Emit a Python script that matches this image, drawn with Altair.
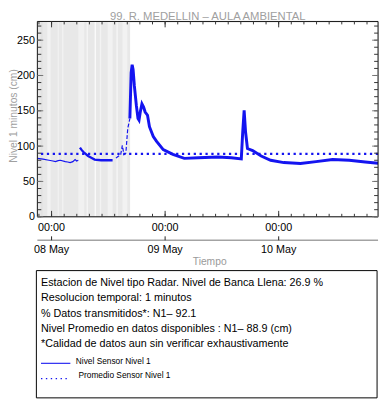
import altair as alt
import pandas as pd

BASE = pd.Timestamp("2024-05-08 00:00")
FONT = "Liberation Sans"
BLUE = "#1414f0"

# ---- series: hours after 08 May 00:00 and level (cm) ----
seg_a_h = [-3.0, -1.8, -0.56, 0.3, 0.83, 1.4, 1.86, 2.9, 3.4, 3.93, 4.5, 4.97, 5.3, 5.65]
seg_a_v = [82.7, 81.5, 80.0, 79.0, 78.0, 79.5, 80.0, 78.0, 77.5, 76.7, 78.0, 81.0, 79.0, 80.0]
seg_b_h = [6.0, 6.3, 6.68, 7.2, 7.72, 8.4, 9.1, 10.47, 11.5, 12.9]
seg_b_v = [98.0, 95.0, 92.0, 89.0, 86.0, 83.5, 81.0, 80.0, 80.0, 80.0]
seg_c_h = [13.6, 13.9, 14.6, 14.96, 15.3, 15.7, 16.1, 16.55]
seg_c_v = [83.0, 84.5, 88.0, 101.0, 88.0, 90.0, 125.0, 139.0]
main_h = [16.55, 16.82, 17.03, 17.23, 17.5, 17.92, 18.27, 18.48, 18.75, 19.1, 19.45,
          19.78, 20.28, 20.69, 21.5, 22.2, 23.6, 25.65, 28.05, 31.0, 35.2, 38.0, 40.1,
          40.4, 40.7, 41.0, 41.4, 42.5, 44.3, 46.3, 49.1, 52.6, 55.9, 59.4, 62.9, 66.3, 69.0]
main_v = [139.0, 203.8, 215.3, 208.4, 185.3, 157.6, 139.0, 136.8, 148.3, 159.8, 155.3,
          148.3, 143.7, 127.5, 113.7, 106.7, 95.0, 88.3, 82.7, 83.5, 84.5, 83.5, 82.0,
          120.0, 150.6, 120.0, 96.6, 93.8, 86.0, 80.0, 76.7, 75.3, 78.0, 81.0, 80.0, 77.6, 75.8]
mean_level = 88.9

# ---- gray stripes (hours) ----
stripe_start = [-3.0, -2.3, -0.91, 1.3, 2.2, 5.65, 7.4, 9.1, 10.2, 11.85, 13.7, 15.0]
stripe_end = [16.6, -1.9, -0.21, 1.5, 2.5, 6.9, 7.7, 9.4, 10.5, 12.9, 14.0, 16.0]
stripe_fill = ["#e8e8e8", "#e2e2e2", "#f2f2f2", "#f5f5f5", "#f1f1f1", "#f1f1f1",
               "#f4f4f4", "#fafafa", "#f3f3f3", "#f2f2f2", "#f5f5f5", "#f2f2f2"]

# ---- axes ----
day_dates = ["2024-05-08", "2024-05-09", "2024-05-10"]
day_labels = ["08 May", "09 May", "10 May"]
hour_labels = ["00:00", "00:00", "00:00"]
y_major = [0, 50, 100, 150, 200, 250]
y_minor = list(range(0, 280, 10))
y_max = 276.5

title_text = "99. R. MEDELLIN \u2013 AULA AMBIENTAL"
ytitle_text = "Nivel 1 minutos (cm)"
xtitle_text = "Tiempo"
info_lines = [
    "Estacion de Nivel tipo Radar. Nivel de Banca Llena: 26.9 %",
    "Resolucion temporal: 1 minutos",
    "% Datos transmitidos*: N1\u2013 92.1",
    "Nivel Promedio en datos disponibles : N1\u2013 88.9 (cm)",
    "*Calidad de datos aun sin verificar exhaustivamente",
]
legend_labels = ["Nivel Sensor Nivel 1", "Promedio Sensor Nivel 1"]

W, H = 348, 199.5


def ts(hours):
    return [BASE + pd.Timedelta(hours=h) for h in hours]


X = lambda f: alt.X(f, type="temporal",
                    scale=alt.Scale(domain=[alt.DateTime(year=2024, month=5, date=7, hours=21),
                                            alt.DateTime(year=2024, month=5, date=10, hours=21)]),
                    axis=None)
X2 = lambda f: alt.X2(f)
Y = alt.Y("v:Q", scale=alt.Scale(domain=[0, y_max]),
          axis=alt.Axis(values=y_major, ticks=False, tickSize=0, domain=False, grid=False,
                        labelFontSize=11, labelColor="black", labelFont=FONT,
                        labelPadding=3, title=None))

one = pd.DataFrame({"a": [0]})

stripes = alt.Chart(pd.DataFrame({"s": ts(stripe_start), "e": ts(stripe_end), "f": stripe_fill})).mark_rect().encode(
    x=X("s"), x2=X2("e"), y=alt.value(0), y2=alt.value(H), fill=alt.Fill("f:N", scale=None))


def seg(hours, vals, width, dash=None):
    kw = dict(color=BLUE, strokeWidth=width, clip=True)
    if dash:
        kw["strokeDash"] = dash
    return alt.Chart(pd.DataFrame({"t": ts(hours), "v": vals})).mark_line(**kw).encode(x=X("t"), y=Y)


line_a = seg(seg_a_h, seg_a_v, 1.2)
line_b = seg(seg_b_h, seg_b_v, 2.4)
line_c = seg(seg_c_h, seg_c_v, 1.2, [4, 2])
line_main = seg(main_h, main_v, 3)

mean_rule = alt.Chart(pd.DataFrame({"v": [mean_level]})).mark_rule(
    color=BLUE, strokeWidth=2.3, strokeDash=[2.3, 3.7]).encode(y=Y)

frame = alt.Chart(one).mark_rect(fill=None, stroke="#111", strokeWidth=1).encode(
    x=alt.value(0), x2=alt.value(W), y=alt.value(0), y2=alt.value(H))

tick_times = pd.date_range(start=BASE - pd.Timedelta(minutes=160), periods=27, freq="160min")
tdf = pd.DataFrame({"t": tick_times})
mdf = pd.DataFrame({"t": pd.to_datetime(day_dates), "h": hour_labels, "d": day_labels})
ymin_df = pd.DataFrame({"v": y_minor})
ymaj_df = pd.DataFrame({"v": y_major})

tick_col = "#333"
x_ticks = [
    alt.Chart(tdf).mark_rule(color=tick_col).encode(x=X("t"), y=alt.value(H - 3), y2=alt.value(H)),
    alt.Chart(tdf).mark_rule(color=tick_col).encode(x=X("t"), y=alt.value(0), y2=alt.value(3)),
    alt.Chart(mdf).mark_rule(color=tick_col).encode(x=X("t"), y=alt.value(H - 6), y2=alt.value(H)),
    alt.Chart(mdf).mark_rule(color=tick_col).encode(x=X("t"), y=alt.value(0), y2=alt.value(6)),
]
y_ticks = [
    alt.Chart(ymin_df).mark_rule(color=tick_col).encode(y=Y, x=alt.value(0), x2=alt.value(4)),
    alt.Chart(ymin_df).mark_rule(color=tick_col).encode(y=Y, x=alt.value(W - 4), x2=alt.value(W)),
    alt.Chart(ymaj_df).mark_rule(color="#777").encode(y=Y, x=alt.value(0), x2=alt.value(6)),
    alt.Chart(ymaj_df).mark_rule(color="#777").encode(y=Y, x=alt.value(W - 6), x2=alt.value(W)),
]

hour_text = alt.Chart(mdf).mark_text(font=FONT, fontSize=11, color="black", baseline="middle").encode(
    x=X("t"), y=alt.value(211.5), text="h:N")
date_line = alt.Chart(one).mark_rule(color="#a3a3a3", strokeWidth=1.6).encode(
    x=alt.value(0), x2=alt.value(W), y=alt.value(223.5))
date_ticks = alt.Chart(mdf).mark_rule(color="#222").encode(x=X("t"), y=alt.value(219.5), y2=alt.value(223.5))
date_text = alt.Chart(mdf).mark_text(font=FONT, fontSize=11, color="black", baseline="middle").encode(
    x=X("t"), y=alt.value(234), text="d:N")
xtitle = alt.Chart(pd.DataFrame({"s": [xtitle_text]})).mark_text(
    font=FONT, fontSize=10.5, color="#9a9a9a", baseline="middle").encode(
    x=alt.value(176), y=alt.value(246), text="s:N")
title = alt.Chart(pd.DataFrame({"s": [title_text]})).mark_text(
    font=FONT, fontSize=11.5, color="#a0a0a0", baseline="alphabetic").encode(
    x=alt.value(174), y=alt.value(-1), text="s:N")
ytitle = alt.Chart(pd.DataFrame({"s": [ytitle_text]})).mark_text(
    font=FONT, fontSize=10.5, color="#a0a0a0", baseline="middle", angle=270).encode(
    x=alt.value(-23.5), y=alt.value(96.5), text="s:N")

box = alt.Chart(one).mark_rect(fill="white", stroke="black", strokeWidth=1).encode(
    x=alt.value(-1), x2=alt.value(347), y=alt.value(254.5), y2=alt.value(384.5))

info_y = [267.0, 282.8, 298.5, 314.3, 329.8]
info = [alt.Chart(pd.DataFrame({"s": [txt]})).mark_text(
    font=FONT, fontSize=11, color="black", align="left", baseline="middle").encode(
    x=alt.value(3.7), y=alt.value(yy), text="s:N") for txt, yy in zip(info_lines, info_y)]

leg_line1 = alt.Chart(one).mark_rule(color=BLUE, strokeWidth=1.1).encode(
    x=alt.value(3.7), x2=alt.value(33.7), y=alt.value(349.2))
leg_line2 = alt.Chart(one).mark_rule(color=BLUE, strokeWidth=1.4, strokeDash=[1.4, 3.6]).encode(
    x=alt.value(3.7), x2=alt.value(33.7), y=alt.value(364.8))
leg_text1 = alt.Chart(pd.DataFrame({"s": [legend_labels[0]]})).mark_text(
    font=FONT, fontSize=8.5, color="black", align="left", baseline="middle").encode(
    x=alt.value(39.3), y=alt.value(346.8), text="s:N")
leg_text2 = alt.Chart(pd.DataFrame({"s": [legend_labels[1]]})).mark_text(
    font=FONT, fontSize=8.5, color="black", align="left", baseline="middle").encode(
    x=alt.value(42), y=alt.value(361.7), text="s:N")

chart = alt.layer(
    stripes, mean_rule, line_a, line_b, line_c, line_main, frame, *x_ticks, *y_ticks,
    hour_text, date_line, date_ticks, date_text, xtitle, title, ytitle,
    box, *info, leg_line1, leg_line2, leg_text1, leg_text2,
).properties(
    width=W, height=H,
    padding={"left": 30, "top": 9.5, "right": 2, "bottom": 186},
    autosize=alt.AutoSizeParams(type="none"),
).configure_view(stroke=None).configure(background="white")

chart.save("out.html", embed_options={"renderer": "svg", "actions": False})
